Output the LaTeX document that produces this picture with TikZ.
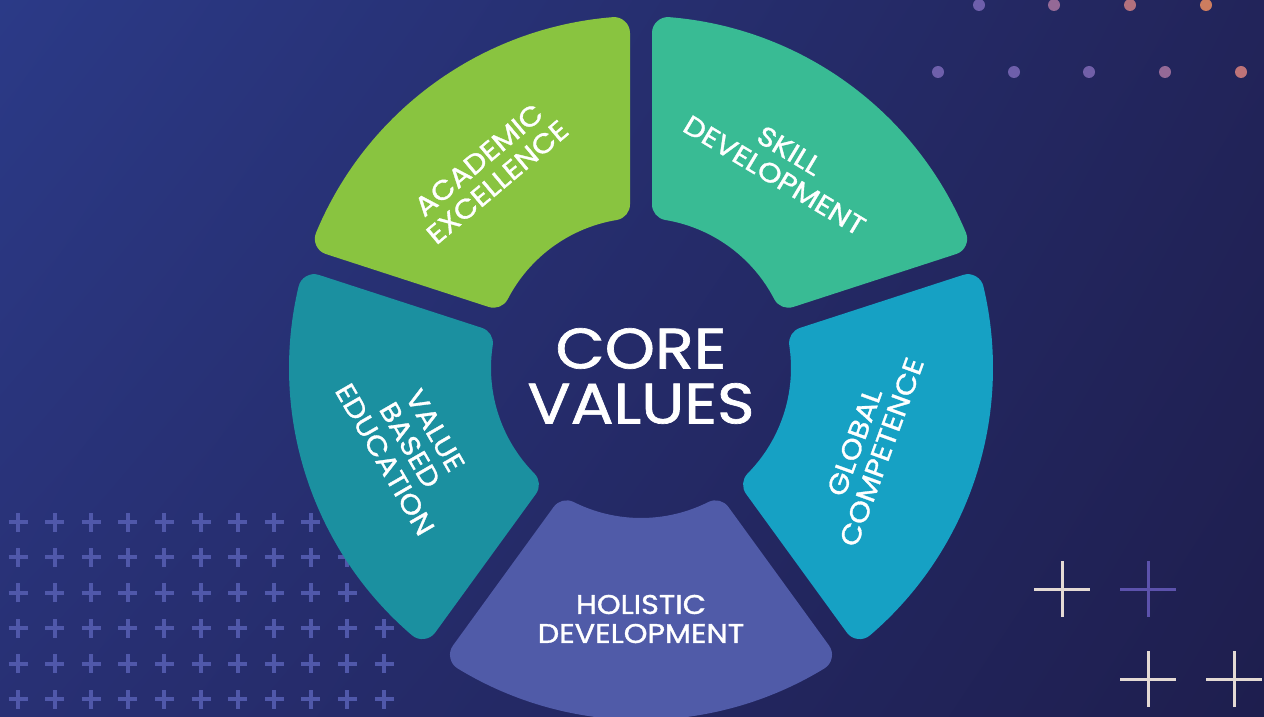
\documentclass[tikz,border=0pt]{standalone}
\usepackage{fontspec}
\setmainfont{Poppins}[FakeStretch=1.12,FakeBold=1.2]
\usetikzlibrary{shadings}
\definecolor{acad}{RGB}{137,196,64}
\definecolor{skill}{RGB}{57,187,148}
\definecolor{glob}{RGB}{22,161,196}
\definecolor{valb}{RGB}{27,144,160}
\definecolor{holi}{RGB}{80,91,168}
\definecolor{bgul}{RGB}{43,58,135}
\definecolor{bgur}{RGB}{34,36,90}
\definecolor{bgll}{RGB}{40,48,116}
\definecolor{bglr}{RGB}{30,30,78}
\definecolor{plusc}{RGB}{80,88,170}
\definecolor{cream}{RGB}{228,218,212}
\definecolor{lilac}{RGB}{92,82,172}
\definecolor{dA}{RGB}{110,95,171}
\definecolor{dB}{RGB}{148,105,150}
\definecolor{dC}{RGB}{178,112,125}
\definecolor{dD}{RGB}{205,125,95}
\definecolor{dE}{RGB}{190,115,120}
\definecolor{dF}{RGB}{113,95,168}
\tikzset{
  seg/.style={fill=#1, draw=#1, line width=32pt, line join=round},
  lbl/.style={text=white, align=center, inner sep=0pt, font=\fontsize{27}{29}\selectfont},
  corelbl/.style={text=white, align=center, inner sep=0pt, font=\fontsize{57}{55}\selectfont},
  dotp/.style={circle, fill=#1, minimum size=12pt, inner sep=0pt, draw=none},
  bigplus/.style={draw=plusc, line width=4pt},
  thinplus/.style={draw=#1, line width=3pt}
}
\newcommand\ringseg[3]{%
  \path[seg=#3] ({#1+4.61}:336) arc[start angle={#1+4.61}, end angle={#2-4.61}, radius=336]
    -- ({#2-9.36}:166) arc[start angle={#2-9.36}, end angle={#1+9.36}, radius=166] -- cycle;}
\begin{document}
\begin{tikzpicture}[x=1pt,y=1pt]
  % background
  \shade[upper left=bgul, upper right=bgur, lower left=bgll, lower right=bglr]
    (0,0) rectangle (1264,716);
  \useasboundingbox (0,0) rectangle (1264,716);
  % plus grid lower left
  \foreach \i in {0,...,10}{
    \foreach \j in {0,...,5}{
      \draw[bigplus] ({18+36.6*\i-9.5},{194-35.4*\j}) -- ++(19,0)
                     ({18+36.6*\i},{194-35.4*\j-9.5}) -- ++(0,19);
    }
  }
  % dots top right
  \node[dotp=dA] (d1) at (979,711) {};
  \node[dotp=dB] (d2) at (1054,711) {};
  \node[dotp=dC] (d3) at (1130,711) {};
  \node[dotp=dD] (d4) at (1206,711) {};
  \node[dotp=dA] (d5) at (938,644) {};
  \node[dotp=dA] (d6) at (1014,644) {};
  \node[dotp=dF] (d7) at (1089,644) {};
  \node[dotp=dB] (d8) at (1165,644) {};
  \node[dotp=dE] (d9) at (1241,644) {};
  % thin crosses bottom right
  \draw[thinplus=cream] (1034,127) -- (1090,127) (1062,99) -- (1062,155);
  \draw[thinplus=lilac] (1120,127) -- (1176,127) (1148,99) -- (1148,155);
  \draw[thinplus=cream] (1120,37) -- (1176,37) (1148,9) -- (1148,65);
  \draw[thinplus=cream] (1206,37) -- (1262,37) (1234,9) -- (1234,65);
  % ring segments
  \begin{scope}[shift={(641,348)}]
    \ringseg{90}{162}{acad}
    \ringseg{162}{234}{valb}
    \ringseg{234}{306}{holi}
    \ringseg{306}{378}{glob}
    \ringseg{18}{90}{skill}
  \end{scope}
  % labels
  \node[corelbl] (core) at (641,340) {CORE\\VALUES};
  \node[lbl, rotate=40] (acadl) at (488,545) {ACADEMIC\\EXCELLENCE};
  \node[lbl, rotate=-31] (skilll) at (782,553) {SKILL\\DEVELOPMENT};
  \node[lbl, rotate=-60] (valbl) at (410,271) {VALUE\\BASED\\EDUCATION};
  \node[lbl, rotate=70] (globl) at (868,269) {GLOBAL\\COMPETENCE};
  \node[lbl] (holil) at (641,97) {HOLISTIC\\DEVELOPMENT};
\end{tikzpicture}
\end{document}
